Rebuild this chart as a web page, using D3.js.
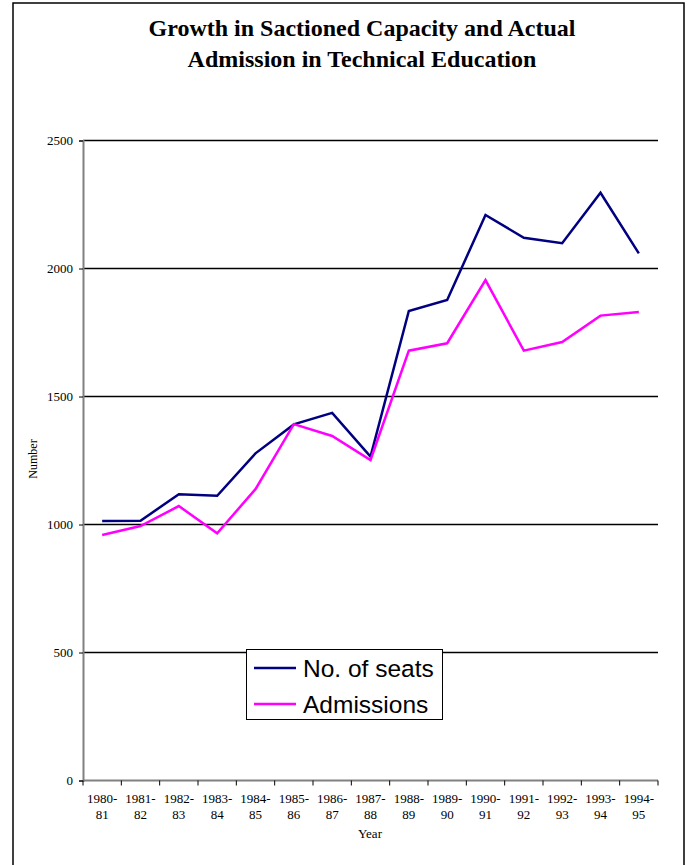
<!DOCTYPE html>
<html>
<head>
<meta charset="utf-8">
<script src="https://cdn.jsdelivr.net/npm/d3@7"></script>
<style>
  html, body { margin: 0; padding: 0; background: #fff; }
  svg { display: block; }
</style>
</head>
<body>
<svg id="chart" width="688" height="865"></svg>
<script>
// Academic years (two-line tick labels)
const years = ["1980-|81","1981-|82","1982-|83","1983-|84","1984-|85","1985-|86","1986-|87",
               "1987-|88","1988-|89","1989-|90","1990-|91","1991-|92","1992-|93","1993-|94","1994-|95"];
// Sanctioned intake capacity
const seats = [1012, 1013, 1116, 1110, 1276, 1389, 1434, 1263, 1832, 1875, 2207, 2118, 2097, 2294, 2057];
// Actual admissions
const admissions = [957, 992, 1070, 964, 1136, 1390, 1344, 1250, 1677, 1706, 1953, 1677, 1711, 1814, 1828];
const yTicks = [0, 500, 1000, 1500, 2000, 2500];
const seriesNames = ["No. of seats", "Admissions"];
const seriesColors = ["#000080", "#FF00FF"];

const svg = d3.select("#chart");
const serif = "'Liberation Serif', 'Times New Roman', serif";
const sans = "'Liberation Sans', Arial, sans-serif";

// outer frame
svg.append("rect").attr("x", 13).attr("y", 3).attr("width", 671).attr("height", 870)
  .attr("fill", "none").attr("stroke", "#000").attr("stroke-width", 1.5);

// title
const title = svg.append("text").attr("text-anchor", "middle")
  .style("font-family", serif).style("font-weight", "bold").style("font-size", "24px");
title.append("tspan").attr("x", 362).attr("y", 36).text("Growth in Sactioned Capacity and Actual");
title.append("tspan").attr("x", 362).attr("y", 67).text("Admission in Technical Education");

const plot = { left: 83, right: 658, top: 140, bottom: 780 };
const x = d3.scaleBand().domain(years).range([plot.left, plot.right]);
const y = d3.scaleLinear().domain([0, 2500]).range([plot.bottom, plot.top]);

// horizontal gridlines
svg.append("g").selectAll("line").data(yTicks.filter(d => d > 0)).join("line")
  .attr("x1", plot.left).attr("x2", plot.right)
  .attr("y1", d => y(d) + 0.5).attr("y2", d => y(d) + 0.5)
  .attr("stroke", "#000").attr("stroke-width", 1.3);

// y axis
const yAxis = svg.append("g").attr("transform", `translate(${plot.left},0.5)`)
  .call(d3.axisLeft(y).tickValues(yTicks).tickSize(4).tickPadding(6).tickFormat(d3.format("d")));
yAxis.select(".domain").attr("stroke", "#808080").attr("stroke-width", 2);
yAxis.selectAll(".tick line").attr("stroke", "#000");
yAxis.selectAll(".tick text").style("font-family", serif).style("font-size", "13px").attr("fill", "#000");

// x axis with ticks at category boundaries
const xAxis = svg.append("g").attr("transform", `translate(0,${plot.bottom + 0.5})`);
xAxis.append("line").attr("x1", plot.left).attr("x2", plot.right)
  .attr("stroke", "#808080").attr("stroke-width", 2);
const bounds = years.map(d => x(d)).concat([x(years[years.length - 1]) + x.bandwidth()]);
xAxis.selectAll("line.tk").data(bounds).join("line").attr("class", "tk")
  .attr("x1", d => d).attr("x2", d => d).attr("y1", 0).attr("y2", 5)
  .attr("stroke", "#000");
const xl = xAxis.selectAll("text.lab").data(years).join("text").attr("class", "lab")
  .attr("text-anchor", "middle")
  .style("font-family", serif).style("font-size", "13px");
xl.append("tspan").attr("x", d => x(d) + x.bandwidth() / 2).attr("y", 22).text(d => d.split("|")[0]);
xl.append("tspan").attr("x", d => x(d) + x.bandwidth() / 2).attr("y", 38).text(d => d.split("|")[1]);

// axis titles
svg.append("text").attr("x", 370).attr("y", 838).attr("text-anchor", "middle")
  .style("font-family", serif).style("font-size", "13px").text("Year");
svg.append("text").attr("transform", "translate(37,459) rotate(-90)").attr("text-anchor", "middle")
  .style("font-family", serif).style("font-size", "12px").text("Number");

// series lines
const line = d3.line().x((d, i) => x(years[i]) + x.bandwidth() / 2).y(d => y(d));
[seats, admissions].forEach((s, k) => {
  svg.append("path").datum(s).attr("d", line)
    .attr("fill", "none").attr("stroke", seriesColors[k]).attr("stroke-width", 2.5)
    .attr("stroke-linejoin", "miter");
});

// legend
const lg = svg.append("g");
lg.append("rect").attr("x", 246.5).attr("y", 649.5).attr("width", 196).attr("height", 70)
  .attr("fill", "#fff").attr("stroke", "#000").attr("stroke-width", 1);
seriesNames.forEach((n, k) => {
  const ly = 668 + k * 36;
  lg.append("line").attr("x1", 254).attr("x2", 296).attr("y1", ly).attr("y2", ly)
    .attr("stroke", seriesColors[k]).attr("stroke-width", 2.5);
  lg.append("text").attr("x", 303).attr("y", ly + 9)
    .style("font-family", sans).style("font-size", "24.5px").text(n);
});
</script>
</body>
</html>
